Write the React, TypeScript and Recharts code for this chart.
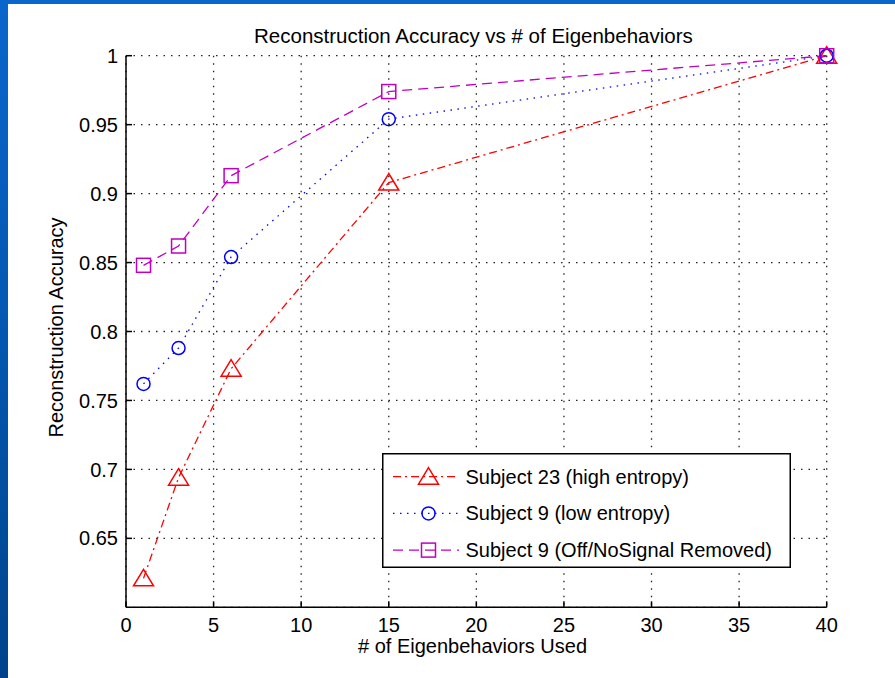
import { LineChart, Line, XAxis, YAxis, CartesianGrid, Legend } from 'recharts';

// values
const eigenCounts = [1, 3, 6, 15, 40];
const subject23 = [0.621, 0.694, 0.773, 0.908, 1.0];
const subject9 = [0.762, 0.788, 0.854, 0.954, 1.0];
const subject9Removed = [0.848, 0.862, 0.913, 0.974, 1.0];

const xTicks = [0, 5, 10, 15, 20, 25, 30, 35, 40];
const yTicks = [0.65, 0.7, 0.75, 0.8, 0.85, 0.9, 0.95, 1];

const data = eigenCounts.map((n, i) => ({
  n,
  s23: subject23[i],
  s9: subject9[i],
  s9r: subject9Removed[i],
}));

const FONT = '"Liberation Sans", Arial, sans-serif';

type MarkerKind = 'triangle' | 'circle' | 'square';

const seriesOrder = ['s23', 's9', 's9r'];
const series: Record<string, { color: string; dash: string; marker: MarkerKind }> = {
  s23: { color: '#ff0000', dash: '8 4 2 4', marker: 'triangle' },
  s9: { color: '#0000ff', dash: '1.5 5.5', marker: 'circle' },
  s9r: { color: '#c000c0', dash: '10 6', marker: 'square' },
};

function Marker({ kind, cx, cy, color }: { kind: MarkerKind; cx: number; cy: number; color: string }) {
  const common = { fill: 'none', stroke: color, strokeWidth: 1.5 };
  if (kind === 'triangle') {
    return <path d={`M${cx},${cy - 9} L${cx - 10},${cy + 7.5} L${cx + 10},${cy + 7.5} Z`} {...common} />;
  }
  if (kind === 'circle') {
    return <circle cx={cx} cy={cy} r={6.5} {...common} />;
  }
  return <rect x={cx - 7} y={cy - 7} width={14} height={14} {...common} />;
}

const makeDot = (key: string) => (props: any) => {
  const s = series[key];
  return (
    <g key={`${key}-${props.index}`}>
      <Marker kind={s.marker} cx={props.cx} cy={props.cy} color={s.color} />
    </g>
  );
};

function LegendBox({ payload }: any) {
  const rows = [...(payload || [])].sort(
    (a: any, b: any) => seriesOrder.indexOf(a.dataKey) - seriesOrder.indexOf(b.dataKey)
  );
  return (
    <svg width={409} height={115} style={{ display: 'block' }}>
      <rect x={0.75} y={0.75} width={407.5} height={113.5} fill="#fff" stroke="#000" strokeWidth={1.5} />
      {rows.map((item: any, i: number) => {
        const s = series[item.dataKey];
        const cy = 23.7 + i * 36.7;
        return (
          <g key={item.dataKey}>
            <line x1={11} x2={77} y1={cy} y2={cy} stroke={s.color} strokeWidth={1.3} strokeDasharray={s.dash} />
            <Marker kind={s.marker} cx={46.5} cy={cy} color={s.color} />
            <text x={83.5} y={cy + 7} fontFamily={FONT} fontSize={20} fill="#000">
              {item.value}
            </text>
          </g>
        );
      })}
    </svg>
  );
}

const tickStyle = { fill: '#000', fontSize: 20, fontFamily: FONT };

export default function App() {
  return (
    <div
      style={{
        position: 'absolute',
        left: 0,
        top: 0,
        width: 895,
        height: 678,
        background: 'linear-gradient(180deg, #0a66cc 0%, #0456b0 50%, #00438c 100%)',
        overflow: 'hidden',
      }}
    >
      <div style={{ position: 'absolute', left: 8, top: 4, right: 0, bottom: 0, background: '#fff' }} />
      <div
        style={{
          position: 'absolute',
          left: 173.4,
          width: 600,
          top: 24,
          lineHeight: '23px',
          fontSize: 20.5,
          fontFamily: FONT,
          textAlign: 'center',
          color: '#000',
        }}
      >
        Reconstruction Accuracy vs # of Eigenbehaviors
      </div>
      <div style={{ position: 'absolute', left: 0, top: 0 }}>
        <LineChart
          width={895}
          height={678}
          data={data}
          margin={{ top: 55.7, right: 68.3, bottom: 40.7, left: 66 }}
        >
          <CartesianGrid stroke="#222" strokeWidth={1.3} strokeDasharray="1.5 6" />
          <XAxis
            dataKey="n"
            type="number"
            domain={[0, 40]}
            ticks={xTicks}
            height={30}
            stroke="#000"
            strokeWidth={1.5}
            tickSize={-6}
            tickMargin={16.5}
            tick={tickStyle}
            label={{
              content: (p: any) => {
                const vb = p.viewBox;
                return (
                  <text x={vb.x + vb.width / 2 - 3.8} y={653} textAnchor="middle" fontFamily={FONT} fontSize={20} fill="#000">
                    # of Eigenbehaviors Used
                  </text>
                );
              },
            }}
          />
          <XAxis
            xAxisId="top"
            dataKey="n"
            type="number"
            orientation="top"
            domain={[0, 40]}
            ticks={xTicks}
            height={0}
            stroke="#000"
            strokeWidth={1.5}
            tickSize={-6}
            tick={false}
          />
          <YAxis
            type="number"
            domain={[0.6, 1]}
            ticks={yTicks}
            width={60}
            stroke="#000"
            strokeWidth={1.5}
            tickSize={-6}
            tickMargin={14}
            tick={tickStyle}
            label={{
              content: (p: any) => {
                const vb = p.viewBox;
                const x = vb.x - 3;
                const y = vb.y + vb.height / 2 - 4;
                return (
                  <text
                    x={x}
                    y={y}
                    transform={`rotate(-90, ${x}, ${y})`}
                    textAnchor="middle"
                    fontFamily={FONT}
                    fontSize={20}
                    fill="#000"
                  >
                    Reconstruction Accuracy
                  </text>
                );
              },
            }}
          />
          <YAxis
            yAxisId="right"
            type="number"
            orientation="right"
            domain={[0.6, 1]}
            ticks={yTicks}
            width={0}
            stroke="#000"
            strokeWidth={1.5}
            tickSize={-6}
            tick={false}
          />
          <Legend
            layout="horizontal"
            verticalAlign="middle"
            align="center"
            wrapperStyle={{ left: 381.5, top: 453, width: 409, height: 115 }}
            content={<LegendBox />}
          />
          <Line
            dataKey="s23"
            name="Subject 23 (high entropy)"
            stroke={series.s23.color}
            strokeWidth={1.3}
            strokeDasharray={series.s23.dash}
            dot={makeDot('s23')}
            activeDot={false}
            isAnimationActive={false}
          />
          <Line
            dataKey="s9"
            name="Subject 9 (low entropy)"
            stroke={series.s9.color}
            strokeWidth={1.3}
            strokeDasharray={series.s9.dash}
            dot={makeDot('s9')}
            activeDot={false}
            isAnimationActive={false}
          />
          <Line
            dataKey="s9r"
            name="Subject 9 (Off/NoSignal Removed)"
            stroke={series.s9r.color}
            strokeWidth={1.3}
            strokeDasharray={series.s9r.dash}
            dot={makeDot('s9r')}
            activeDot={false}
            isAnimationActive={false}
          />
        </LineChart>
      </div>
    </div>
  );
}
